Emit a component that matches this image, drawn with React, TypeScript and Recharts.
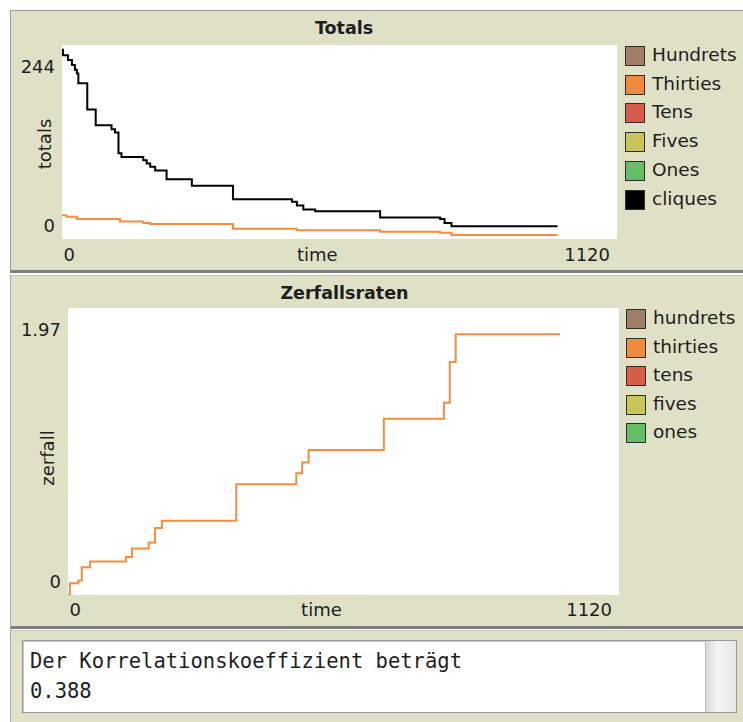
import React from 'react';
import { LineChart, Line, XAxis, YAxis, CartesianGrid, Label } from 'recharts';

// ---- Totals plot: step values over time ----
const cliquesTime = [0, 2, 12, 20, 26, 30, 33, 51, 68, 100, 107, 114, 120, 164, 171, 178, 188, 211, 262, 345, 464, 474, 487, 511, 642, 763, 772, 786, 1000];
const cliquesCount = [238, 231, 225, 219, 213, 208, 196, 163, 143, 138, 134, 108, 103, 99, 95, 91, 86, 75, 67, 50, 47, 42, 37, 35, 27, 25, 20, 16, 16];

const thirtiesTime = [0, 9, 30, 117, 164, 178, 345, 474, 642, 763, 786, 1000];
const thirtiesCount = [30, 28, 25, 22, 20, 19, 13, 11, 9, 8, 5, 5];

// ---- Zerfallsraten plot ----
const zerfallTime = [0, 4, 21, 28, 45, 118, 130, 164, 177, 191, 342, 464, 476, 489, 642, 764, 776, 788, 1000];
const zerfallRate = [0, 0.08, 0.1, 0.19, 0.23, 0.26, 0.32, 0.36, 0.46, 0.51, 0.76, 0.835, 0.91, 0.995, 1.21, 1.32, 1.6, 1.79, 1.79];

// axis ranges and tick labels
const timeTicks = [0, 1120];
const totalsTicks = [0, 244];
const zerfallTicks = [0, 1.97];

// legends
const totalsLegend = ['Hundrets', 'Thirties', 'Tens', 'Fives', 'Ones', 'cliques'];
const zerfallLegend = ['hundrets', 'thirties', 'tens', 'fives', 'ones'];
const penColors = ['#a07f67', '#ee8a3c', '#d65b4b', '#c8c656', '#66bf66', '#000000'];

const correlationText = ['Der Korrelationskoeffizient beträgt', '0.388'];

const FONT = '"DejaVu Sans", Verdana, sans-serif';
const MONO = '"DejaVu Sans Mono", "Liberation Mono", monospace';
const BEIGE = '#dfe0c6';
const INK = '#1e1e1e';
const ORANGE_LINE = '#f28d42';

const toPoints = (times: number[], values: number[]) =>
  times.map((t, i) => ({ t, v: values[i] }));

const cliquesData = toPoints(cliquesTime, cliquesCount);
const thirtiesData = toPoints(thirtiesTime, thirtiesCount);
const zerfallData = toPoints(zerfallTime, zerfallRate);

// min label sits just above the plot floor, max label a little below the plot top
const makeYTick = (maxVal: number) => (props: any) => {
  const { x, y, payload } = props;
  const isMax = payload.value === maxVal;
  return (
    <text
      x={x - 7}
      y={y + (isMax ? 22 : -13)}
      dy="0.35em"
      textAnchor="end"
      fontFamily={FONT}
      fontSize={18}
      fill={INK}
    >
      {payload.value}
    </text>
  );
};

const makeXTick = (dyPx: number) => (props: any) => {
  const { x, y, payload } = props;
  const first = payload.value === 0;
  return (
    <text
      x={first ? x + 1.5 : x - 7}
      y={y + dyPx}
      dy="0.35em"
      textAnchor={first ? 'start' : 'end'}
      fontFamily={FONT}
      fontSize={18}
      fill={INK}
    >
      {payload.value}
    </text>
  );
};

const timeLabel = (dyPx: number) => (p: any) => {
  const vb = p.viewBox;
  return (
    <text
      x={vb.x + vb.width * 0.46}
      y={vb.y + dyPx}
      dy="0.35em"
      textAnchor="middle"
      fontFamily={FONT}
      fontSize={18}
      fill={INK}
    >
      time
    </text>
  );
};

const yLabel = (text: string, dxPx: number, dyPx: number) => (p: any) => {
  const vb = p.viewBox;
  const cx = vb.x + vb.width + dxPx;
  const cy = vb.y + vb.height / 2 + dyPx;
  return (
    <text
      x={cx}
      y={cy}
      dy="0.35em"
      textAnchor="middle"
      fontFamily={FONT}
      fontSize={18}
      fill={INK}
      transform={`rotate(-90 ${cx} ${cy})`}
    >
      {text}
    </text>
  );
};

function LegendBlock({ names, left, top, step }: { names: string[]; left: number; top: number; step: number }) {
  return (
    <>
      {names.map((n, i) => (
        <div key={n}>
          <div
            style={{
              position: 'absolute',
              left,
              top: top + step * i,
              width: 18,
              height: 18,
              background: penColors[i],
              border: '1.5px solid #2e2e2e',
            }}
          />
          <div
            style={{
              position: 'absolute',
              left: left + 27,
              top: top + step * i - 3,
              height: 24,
              lineHeight: '24px',
              fontFamily: FONT,
              fontSize: 18.5,
              color: INK,
              whiteSpace: 'nowrap',
            }}
          >
            {n}
          </div>
        </div>
      ))}
    </>
  );
}

function Title({ text, cx, cy }: { text: string; cx: number; cy: number }) {
  return (
    <div
      style={{
        position: 'absolute',
        left: cx - 150,
        width: 300,
        top: cy - 12,
        height: 24,
        lineHeight: '24px',
        textAlign: 'center',
        fontFamily: FONT,
        fontWeight: 'bold',
        fontSize: 17.5,
        color: INK,
      }}
    >
      {text}
    </div>
  );
}

export default function App() {
  return (
    <div style={{ position: 'absolute', left: 0, top: 0, width: 743, height: 722, background: '#ffffff', overflow: 'hidden' }}>
      {/* panel frames */}
      <div
        style={{
          position: 'absolute', left: 10, top: 10, width: 740, height: 259,
          background: BEIGE, borderLeft: '1px solid #9b9b9b', borderTop: '1px solid #9b9b9b',
          borderBottom: '3px solid #7d7d7d',
        }}
      />
      <div
        style={{
          position: 'absolute', left: 10, top: 275, width: 740, height: 350,
          background: BEIGE, borderLeft: '1px solid #a8a8a8', borderTop: '1px solid #c4c4c4',
          borderBottom: '3px solid #7d7d7d',
        }}
      />
      <div
        style={{
          position: 'absolute', left: 10, top: 630, width: 740, height: 100,
          background: BEIGE, borderLeft: '1px solid #a8a8a8', borderTop: '1px solid #c4c4c4',
        }}
      />

      {/* Totals plot */}
      <Title text="Totals" cx={344} cy={28} />
      <div style={{ position: 'absolute', left: 0, top: 0 }}>
        <LineChart width={743} height={270} margin={{ top: 45, right: 126, bottom: 0, left: 0 }}>
          <CartesianGrid fill="#ffffff" horizontal={false} vertical={false} stroke="none" />
          <XAxis
            dataKey="t"
            type="number"
            domain={[0, 1120]}
            ticks={timeTicks}
            interval={0}
            height={31}
            axisLine={false}
            tickLine={false}
            tickSize={0}
            tickMargin={0}
            tick={makeXTick(16)}
            allowDataOverflow
          >
            <Label content={timeLabel(16)} />
          </XAxis>
          <YAxis
            type="number"
            domain={[0, 244]}
            ticks={totalsTicks}
            interval={0}
            width={62}
            axisLine={false}
            tickLine={false}
            tickSize={0}
            tickMargin={0}
            tick={makeYTick(244)}
            allowDataOverflow
          >
            <Label content={yLabel('totals', -17, 2)} />
          </YAxis>
          <Line data={thirtiesData} dataKey="v" type="stepAfter" stroke={ORANGE_LINE} strokeWidth={2} dot={false} isAnimationActive={false} />
          <Line data={cliquesData} dataKey="v" type="stepAfter" stroke="#000000" strokeWidth={2} dot={false} isAnimationActive={false} />
        </LineChart>
      </div>
      <LegendBlock names={totalsLegend} left={625} top={46} step={28.7} />

      {/* Zerfallsraten plot */}
      <Title text="Zerfallsraten" cx={344.5} cy={293} />
      <div style={{ position: 'absolute', left: 0, top: 270 }}>
        <LineChart width={743} height={358} margin={{ top: 38, right: 124, bottom: 0, left: 0 }}>
          <CartesianGrid fill="#ffffff" horizontal={false} vertical={false} stroke="none" />
          <XAxis
            dataKey="t"
            type="number"
            domain={[0, 1120]}
            ticks={timeTicks}
            interval={0}
            height={33}
            axisLine={false}
            tickLine={false}
            tickSize={0}
            tickMargin={0}
            tick={makeXTick(15)}
            allowDataOverflow
          >
            <Label content={timeLabel(15)} />
          </XAxis>
          <YAxis
            type="number"
            domain={[0, 1.97]}
            ticks={zerfallTicks}
            interval={0}
            width={68}
            axisLine={false}
            tickLine={false}
            tickSize={0}
            tickMargin={0}
            tick={makeYTick(1.97)}
            allowDataOverflow
          >
            <Label content={yLabel('zerfall', -20, 6.5)} />
          </YAxis>
          <Line data={zerfallData} dataKey="v" type="stepAfter" stroke={ORANGE_LINE} strokeWidth={2} dot={false} isAnimationActive={false} />
        </LineChart>
      </div>
      <LegendBlock names={zerfallLegend} left={626} top={309} step={28.6} />

      {/* output text box */}
      <div
        style={{
          position: 'absolute', left: 22, top: 640, width: 713, height: 71,
          background: '#ffffff', border: '1px solid #9a9a9a', boxShadow: 'inset 1px 1px 0 #c8c8c8',
        }}
      >
        <div style={{ position: 'absolute', left: 7, top: 5, fontFamily: MONO, fontSize: 20.5, lineHeight: '30px', color: INK, whiteSpace: 'pre' }}>
          {correlationText.join('\n')}
        </div>
        <div
          style={{
            position: 'absolute', right: 0, top: 0, width: 30, height: 71,
            background: 'linear-gradient(to right, #d9d9d9, #f4f4f4 40%, #e6e6e6)',
            borderLeft: '1px solid #b9b9b9',
          }}
        />
      </div>
    </div>
  );
}
